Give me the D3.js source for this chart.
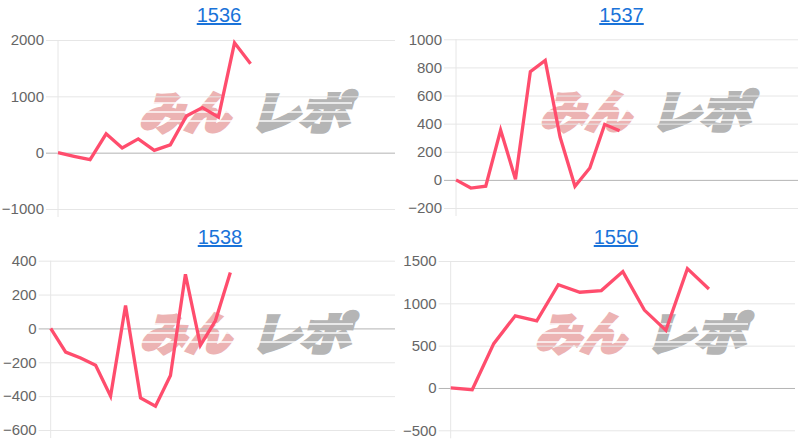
<!DOCTYPE html>
<html>
<head>
<meta charset="utf-8">
<script src="https://cdn.jsdelivr.net/npm/d3@7"></script>
<style>
html,body{margin:0;padding:0;background:#fff;}
svg{display:block;}
</style>
</head>
<body>
<svg id="chart" width="800" height="444"></svg>
<script>
// ---- data ----
const titles = ["1536", "1537", "1538", "1550"];

const categories1536 = ["1","2","3","4","5","6","7","8","9","10","11","12","13","14","15","16","17","18","19","20","21","22"];
const categories1537 = ["1","2","3","4","5","6","7","8","9","10","11","12","13","14","15","16","17","18","19","20","21","22","23","24"];
const categories1538 = ["1","2","3","4","5","6","7","8","9","10","11","12","13","14","15","16","17","18","19","20","21","22","23","24"];
const categories1550 = ["1","2","3","4","5","6","7","8","9","10","11","12","13","14","15","16","17"];

const values1536 = [0, -65, -125, 335, 85, 245, 40, 140, 650, 800, 630, 1950, 1580];
const values1537 = [0, -58, -45, 355, 5, 770, 850, 305, -45, 85, 395, 350];
const values1538 = [0, -140, -175, -217, -400, 135, -410, -460, -278, 320, -100, 45, 330];
const values1550 = [0, -20, 524, 853, 794, 1220, 1131, 1151, 1375, 920, 680, 1410, 1170];

const ticks1536 = [-1000, 0, 1000, 2000];
const ticks1537 = [-200, 0, 200, 400, 600, 800, 1000];
const ticks1538 = [-600, -400, -200, 0, 200, 400];
const ticks1550 = [-500, 0, 500, 1000, 1500];

// ---- layout ----
const panels = [
  {title: titles[0], cats: categories1536, vals: values1536, ticks: ticks1536,
   left: 58, right: 395, top: 40, bottom: 209, tx: 219, ty: 22, wx: 137, wy: 97},
  {title: titles[1], cats: categories1537, vals: values1537, ticks: ticks1537,
   left: 456, right: 798, top: 39.3, bottom: 208, tx: 621.5, ty: 22, wx: 538, wy: 96},
  {title: titles[2], cats: categories1538, vals: values1538, ticks: ticks1538,
   left: 50.7, right: 395, top: 260.7, bottom: 430, tx: 220, ty: 244, wx: 138, wy: 318},
  {title: titles[3], cats: categories1550, vals: values1550, ticks: ticks1550,
   left: 450.7, right: 795, top: 261, bottom: 430.3, tx: 616, ty: 244, wx: 533, wy: 318}
];

const svg = d3.select("#chart");
const lineColor = "#ff4d6d";

panels.forEach(p => {
  const g = svg.append("g");
  const x = d3.scalePoint().domain(p.cats).range([p.left, p.right]).padding(0);
  const y = d3.scaleLinear()
    .domain([d3.min(p.ticks), d3.max(p.ticks)])
    .range([p.bottom, p.top]);

  // watermark
  const wm = g.append("g").attr("transform", `translate(${p.wx},${p.wy + 32})`);
  const wmParts = [
    {t: "みん", x: 2, w: 90, c: "#ecb3b3"},
    {t: "レポ", x: 112, w: 100, c: "#b5b5b5"}
  ];
  wmParts.forEach(wp => {
    wm.append("text")
      .attr("x", wp.x).attr("y", 0)
      .attr("textLength", wp.w).attr("lengthAdjust", "spacingAndGlyphs")
      .attr("transform", "skewX(-16)")
      .attr("font-family", "'Noto Sans CJK JP', sans-serif")
      .attr("font-weight", 700).attr("font-size", 44)
      .attr("fill", wp.c)
      .attr("stroke", wp.c).attr("stroke-width", 4.5).attr("stroke-linejoin", "miter")
      .text(wp.t);
  });
  // speed-line cut-outs
  [-26, -17, -8].forEach(dy => {
    wm.append("line")
      .attr("x1", -8).attr("x2", 215)
      .attr("y1", dy).attr("y2", dy)
      .attr("stroke", "#fff").attr("stroke-width", 1.4).attr("opacity", 0.95);
  });

  // y gridlines + ticks
  const yAxis = d3.axisLeft(y).tickValues(p.ticks).tickSize(-(p.right - p.left)).tickPadding(14).tickFormat(d3.format("d"));
  const ya = g.append("g").attr("transform", `translate(${p.left},0)`).call(yAxis);
  ya.select(".domain").remove();
  ya.selectAll(".tick line")
    .attr("x1", -12)
    .attr("stroke", d => d === 0 ? "#b4b4b4" : "#e6e6e6")
    .attr("stroke-width", 1);
  ya.selectAll(".tick text")
    .attr("x", -14)
    .attr("fill", "#666")
    .attr("font-family", "'Liberation Sans', Arial, sans-serif")
    .attr("font-size", 15);

  // y axis vertical line
  g.append("line")
    .attr("x1", p.left).attr("x2", p.left)
    .attr("y1", p.top).attr("y2", p.bottom + 8)
    .attr("stroke", "#e6e6e6").attr("stroke-width", 1);

  // data line
  const line = d3.line()
    .x((d, i) => x(p.cats[i]))
    .y(d => y(d));
  g.append("path")
    .datum(p.vals)
    .attr("d", line)
    .attr("fill", "none")
    .attr("stroke", lineColor)
    .attr("stroke-width", 3.3)
    .attr("stroke-linejoin", "miter");

  // title
  g.append("text")
    .attr("x", p.tx).attr("y", p.ty)
    .attr("text-anchor", "middle")
    .attr("font-family", "'Liberation Sans', Arial, sans-serif")
    .attr("font-size", 20)
    .attr("fill", "#1a73d9")
    .attr("text-decoration", "underline")
    .text(p.title);
});
</script>
</body>
</html>
